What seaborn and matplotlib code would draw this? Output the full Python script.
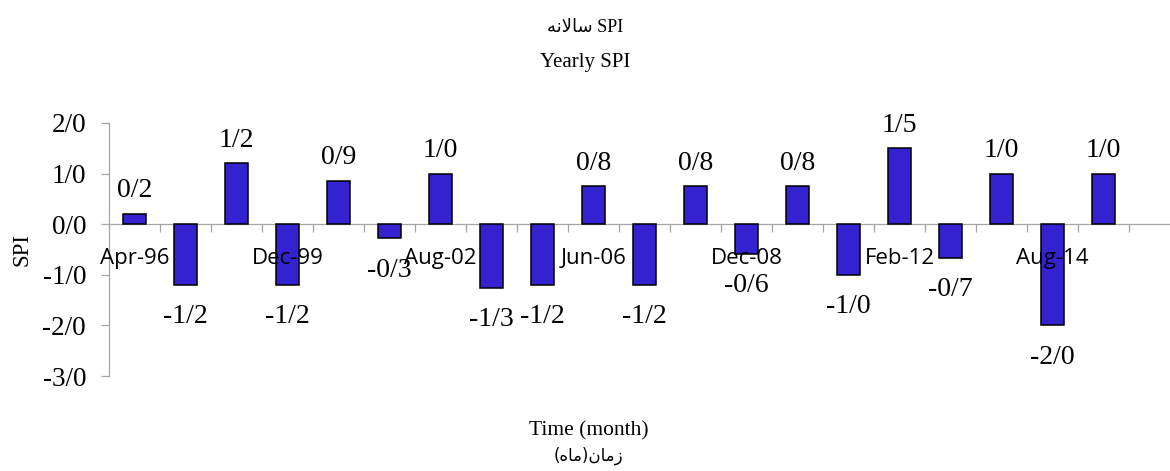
import numpy as np
import pandas as pd
import matplotlib
matplotlib.use("Agg")
import matplotlib.pyplot as plt
import seaborn as sns

# ---- data ----
periods = ["Apr-96", "", "", "Dec-99", "", "", "Aug-02", "", "", "Jun-06",
           "", "", "Dec-08", "", "", "Feb-12", "", "", "Aug-14", ""]
spi = [0.2, -1.2, 1.2, -1.2, 0.86, -0.28, 1.0, -1.26, -1.2, 0.75,
       -1.2, 0.75, -0.58, 0.75, -1.0, 1.5, -0.66, 1.0, -2.0, 1.0]
y_ticks = [-3, -2, -1, 0, 1, 2]
title_fa = "\ufeea\ufee7\ufefb\ufe8e\ufeb3 SPI"      # سالانه SPI (pre-shaped, visual order)
title_en = "Yearly SPI"
xlabel_en = "Time (month)"
xlabel_fa = "(\ufee9\ufe8e\ufee3)\ufee5\ufe8e\ufee3\ufeaf"  # زمان(ماه) (pre-shaped, visual order)
ylabel = "SPI"

def fa_num(v):
    return "{:.1f}".format(v).replace(".", "/")

sns.set_theme(style="white")
plt.rcParams["font.family"] = ["Liberation Serif", "DejaVu Sans"]
plt.rcParams["text.color"] = "black"

W, H = 1170, 471
fig = plt.figure(figsize=(W / 100, H / 100), dpi=100)
ax = fig.add_axes([109 / W, (H - 376) / H, (W - 109) / W, 253 / H])

df = pd.DataFrame({"idx": np.arange(len(spi)), "spi": spi})
sns.barplot(data=df, x="idx", y="spi", color="#3421CF", saturation=1,
            width=0.45, edgecolor="black", linewidth=1.1, ax=ax, zorder=2)

ax.set_axisbelow(False)
ax.set_xlim(-0.5, -0.5 + (W - 109) / 51)
ax.set_ylim(min(y_ticks), max(y_ticks))

# axes styling
for s in ["top", "right"]:
    ax.spines[s].set_visible(False)
ax.spines["bottom"].set_position(("data", 0))
for s in ["bottom", "left"]:
    ax.spines[s].set_color("#A6A6A6")
    ax.spines[s].set_linewidth(0.9)
    ax.spines[s].set_zorder(1.5)

ax.set_xticks(range(len(periods)), periods)
ax.set_xticks(np.arange(0.5, len(periods), 1), minor=True)
ax.tick_params(axis="x", which="major", length=0, pad=17, labelsize=16,
               labelcolor="black")
ax.tick_params(axis="x", which="minor", direction="out", length=5.5,
               width=0.9, color="#A6A6A6", bottom=True)
for lbl in ax.get_xticklabels():
    lbl.set_fontfamily("Open Sans")

ax.set_yticks(y_ticks, [f"{v}/0" for v in y_ticks])
ax.tick_params(axis="y", direction="out", length=5.5, width=0.9,
               color="#A6A6A6", pad=11, labelsize=19.5, labelcolor="black", left=True)

ax.set_xlabel("")
ax.set_ylabel(ylabel, fontsize=16.5, color="black")
ax.yaxis.set_label_coords(-0.072, 0.5)

# data labels
for i, v in enumerate(spi):
    off = 12 if v >= 0 else -27.5
    ax.annotate(fa_num(v), xy=(i, v), xytext=(0, off), textcoords="offset points",
                ha="center", va="baseline", fontsize=20, color="black", zorder=4)

# titles and axis titles
fig.text(0.5, 1 - 28 / H, title_fa, ha="center", va="center", fontsize=13,
         family=["Liberation Serif", "DejaVu Sans"], color="black")
fig.text(0.5, 1 - 62 / H, title_en, ha="center", va="center", fontsize=15, color="black")
fig.text(0.503, 1 - 431 / H, xlabel_en, ha="center", va="center", fontsize=15.5,
         color="black")
fig.text(0.503, 1 - 456 / H, xlabel_fa, ha="center", va="center", fontsize=12,
         family=["DejaVu Sans"], color="black")

fig.savefig("out.png", dpi=100, facecolor="white")
